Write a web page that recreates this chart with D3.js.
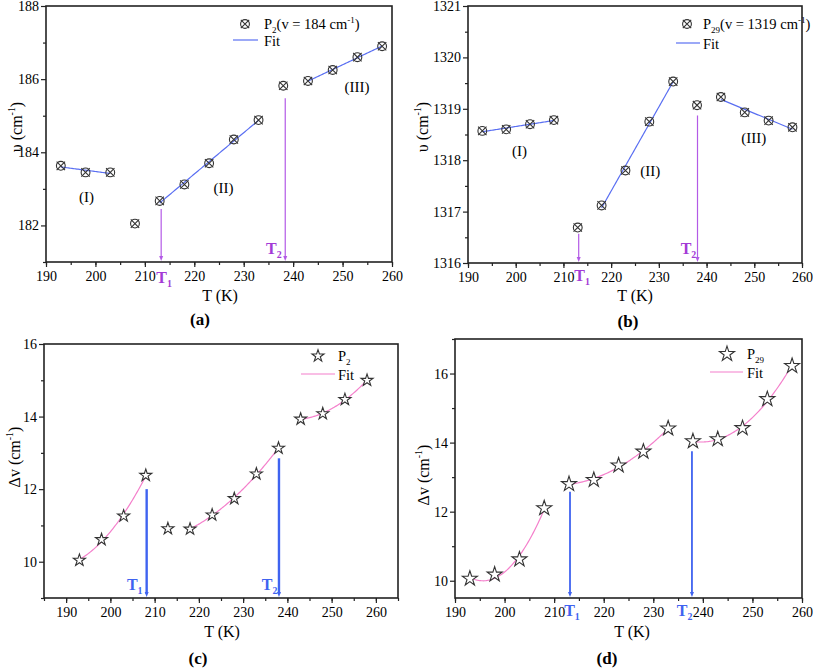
<!DOCTYPE html>
<html><head><meta charset="utf-8">
<script src="https://cdn.jsdelivr.net/npm/d3@7"></script>
<style>body{margin:0;background:#fff}svg{display:block}text,tspan{font-family:"Liberation Serif","Times New Roman",Tinos,serif}</style>
</head><body><svg id="c" width="813" height="668"></svg>
<script>
// ---- data ----
const temps = [193,198,203,208,213,218,223,228,233,238,243,248,253,258];
const nuP2  = [183.63,183.45,183.45,182.05,182.67,183.12,183.70,184.35,184.88,185.82,185.95,186.25,186.60,186.90];
const nuP29 = [1318.57,1318.60,1318.70,1318.78,1316.69,1317.12,1317.80,1318.75,1319.53,1319.07,1319.23,1318.93,1318.77,1318.64];
const dvP2  = [10.04,10.61,11.26,12.38,10.91,10.90,11.29,11.74,12.42,13.13,13.93,14.08,14.47,15.00];
const dvP29 = [10.06,10.18,10.62,12.10,12.80,12.92,13.34,13.74,14.41,14.04,14.10,14.42,15.26,16.22];
const segsA = [[193,203],[213,233],[243,258]];
const segsB = [[193,208],[218,233],[243,258]];
const segsC = [[193,208],[218,238],[243,258]];
const segsD = [[193,208],[213,233],[238,258]];
const xTicks = [190,200,210,220,230,240,250,260];

const svg = d3.select("#c");
const FONT = '"Liberation Serif","Times New Roman",Tinos,serif';

function polyfit(xs, ys, deg){
  const x0 = d3.mean(xs);
  const n = deg+1;
  const A = Array.from({length:n},()=>Array(n+1).fill(0));
  xs.forEach((x,i)=>{
    const t = x-x0;
    for(let r=0;r<n;r++){
      for(let c=0;c<n;c++) A[r][c]+=Math.pow(t,r+c);
      A[r][n]+=ys[i]*Math.pow(t,r);
    }
  });
  for(let i=0;i<n;i++){
    let p=i; for(let k=i+1;k<n;k++) if(Math.abs(A[k][i])>Math.abs(A[p][i])) p=k;
    [A[i],A[p]]=[A[p],A[i]];
    for(let k=0;k<n;k++){ if(k===i) continue; const f=A[k][i]/A[i][i]; for(let c=i;c<=n;c++) A[k][c]-=f*A[i][c]; }
  }
  const coef = A.map((row,i)=>row[n]/row[i]);
  return x => coef.reduce((s,c,i)=>s+c*Math.pow(x-x0,i),0);
}

function richText(g, x, y, parts, opts){
  const t = g.append("text").attr("x",x).attr("y",y)
    .attr("font-size",opts.size).attr("fill",opts.fill||"#000")
    .attr("font-family",FONT)
    .attr("font-weight",opts.weight||"normal")
    .attr("text-anchor",opts.anchor||"start");
  if(opts.transform) t.attr("transform",opts.transform);
  parts.forEach(p=>{
    const s = t.append("tspan").text(p.t);
    if(p.sub){ s.attr("font-size",opts.size*0.62).attr("dy",opts.size*0.25); }
    else if(p.sup){ s.attr("font-size",opts.size*0.62).attr("dy",-opts.size*0.42); }
    else if(p.back){ s.attr("dy",p.back); }
  });
  return t;
}

function panel(cfg){
  const g = svg.append("g");
  const x = d3.scaleLinear().domain(cfg.xd).range([cfg.l,cfg.r]);
  const y = d3.scaleLinear().domain(cfg.yd).range([cfg.b,cfg.t]);
  // minor ticks
  g.append("g").attr("transform",`translate(0,${cfg.b})`)
    .call(d3.axisBottom(x).tickValues(d3.range(cfg.xd[0],cfg.xd[1]+0.01,5)).tickSize(3).tickFormat("").tickSizeOuter(0))
    .call(s=>s.select(".domain").remove());
  g.append("g").attr("transform",`translate(${cfg.l},0)`)
    .call(d3.axisLeft(y).tickValues(cfg.yMinor).tickSize(3).tickFormat("").tickSizeOuter(0))
    .call(s=>s.select(".domain").remove());
  const ax = g.append("g").attr("transform",`translate(0,${cfg.b})`)
    .call(d3.axisBottom(x).tickValues(xTicks).tickSize(5).tickPadding(4).tickSizeOuter(0));
  const ay = g.append("g").attr("transform",`translate(${cfg.l},0)`)
    .call(d3.axisLeft(y).tickValues(cfg.yMajor).tickSize(5).tickPadding(2).tickSizeOuter(0).tickFormat(d3.format("d")));
  [ax,ay].forEach(a=>{
    a.attr("font-family",FONT).attr("font-size",14);
    a.selectAll("text").attr("font-size",14).attr("font-family",FONT).attr("fill","#000");
    a.selectAll(".domain").remove();});
  g.selectAll(".tick line").attr("stroke","#222").attr("stroke-width",1.2);
  g.append("rect").attr("x",cfg.l).attr("y",cfg.t).attr("width",cfg.r-cfg.l).attr("height",cfg.b-cfg.t)
    .attr("fill","none").attr("stroke","#222").attr("stroke-width",1.6);

  // fits
  const line = d3.line().x(d=>x(d[0])).y(d=>y(d[1]));
  cfg.segs.forEach(([a,b])=>{
    const idx = temps.map((t,i)=>i).filter(i=>temps[i]>=a&&temps[i]<=b);
    const f = polyfit(idx.map(i=>temps[i]), idx.map(i=>cfg.vals[i]), cfg.deg);
    const pts = d3.range(a,b+0.001,0.25).map(t=>[t,f(t)]);
    g.append("path").attr("d",line(pts)).attr("fill","none").attr("stroke",cfg.fitColor).attr("stroke-width",1.2);
  });
  // markers
  const drawMarker = (sel)=>{
    if(cfg.marker==="cx"){
      sel.append("circle").attr("r",4.4).attr("fill","none").attr("stroke","#333").attr("stroke-width",1.1);
      sel.append("path").attr("d","M-4.2,-4.2L4.2,4.2M-4.2,4.2L4.2,-4.2").attr("stroke","#333").attr("stroke-width",1.1);
    } else {
      sel.append("path").attr("d",d3.symbol(d3.symbolStar,cfg.starSize)()).attr("fill","#fff").attr("stroke","#333").attr("stroke-width",1.1);
    }
  };
  temps.forEach((t,i)=>{
    const m = g.append("g").attr("transform",`translate(${x(t)},${y(cfg.vals[i])})`);
    drawMarker(m);
  });
  // region labels
  (cfg.regions||[]).forEach(r=>{
    g.append("text").attr("x",x(r.x)).attr("y",y(r.y)).attr("text-anchor","middle").attr("dy","0.35em")
      .attr("font-family",FONT).attr("font-size",15).text(r.t);
  });
  // arrows
  cfg.arrows.forEach(a=>{
    const xa = x(a.x), y0 = y(a.from), y1 = cfg.b-1;
    g.append("line").attr("x1",xa).attr("x2",xa).attr("y1",y0).attr("y2",y1-3)
      .attr("stroke",cfg.arrowColor).attr("stroke-width",cfg.arrowW);
    g.append("path").attr("d",`M${xa-2},${y1-5}L${xa+2},${y1-5}L${xa},${y1}Z`).attr("fill",cfg.arrowColor);
    richText(g, x(a.lx), a.ly, [{t:"T"},{t:a.sub,sub:true}], {size:16,fill:cfg.labelColor,weight:"bold",anchor:"middle"});
  });
  // legend
  const L = cfg.legend;
  const lm = g.append("g").attr("transform",`translate(${L.mx},${L.my})`);
  drawMarker(lm);
  richText(g, L.tx, L.my+5, L.parts, {size:14.5});
  g.append("line").attr("x1",L.lx1).attr("x2",L.lx2).attr("y1",L.ly).attr("y2",L.ly).attr("stroke",cfg.fitColor).attr("stroke-width",1.2);
  g.append("text").attr("x",L.tx).attr("y",L.ly+6).attr("font-family",FONT).attr("font-size",14.5).text("Fit");
  // axis titles
  g.append("text").attr("x",cfg.xtx).attr("y",cfg.xty).attr("text-anchor","middle").attr("font-family",FONT).attr("font-size",16).text("T (K)");
  richText(g, 0, 0, cfg.ylab, {size:16, anchor:"middle", transform:`translate(${cfg.ytx},${cfg.yty}) rotate(-90)`});
  g.append("text").attr("x",cfg.ptx).attr("y",cfg.pty).attr("text-anchor","middle").attr("font-family",FONT).attr("font-size",17).attr("font-weight","bold").text(cfg.name);
}

const violet="#b35ae6", violetL="#a33ad6", blue="#3f63f0";
const ylabU = [{t:"υ (cm"},{t:"-1",sup:true},{t:")",back:16*0.42}];
const ylabD = [{t:"Δv (cm"},{t:"-1",sup:true},{t:")",back:16*0.42}];

panel({l:46,r:392,t:6,b:262,xd:[190,260],yd:[181,188],yMajor:[182,184,186,188],yMinor:[181,183,185,187],
  vals:nuP2,segs:segsA,deg:1,fitColor:"#5a6ff2",marker:"cx",
  regions:[{x:198.2,y:182.78,t:"(I)"},{x:225.9,y:183.03,t:"(II)"},{x:252.9,y:185.8,t:"(III)"}],
  arrows:[{x:213.3,from:182.45,sub:"1",lx:213.9,ly:283},{x:238.4,from:185.48,sub:"2",lx:236.1,ly:254}],
  arrowColor:violet,arrowW:1.2,labelColor:violetL,
  legend:{mx:245,my:24,tx:264,lx1:233,lx2:258,ly:40,parts:[{t:"P"},{t:"2",sub:true},{t:"(v = 184 cm",back:-14.5*0.25},{t:"-1",sup:true},{t:")",back:14.5*0.42}]},
  xtx:220,xty:301,ytx:22,yty:127,ylab:ylabU,ptx:200,pty:325,name:"(a)"});

panel({l:468,r:802,t:6,b:263,xd:[190,260],yd:[1316,1321],yMajor:[1316,1317,1318,1319,1320,1321],yMinor:d3.range(1316.5,1321,1),
  vals:nuP29,segs:segsB,deg:1,fitColor:"#5a6ff2",marker:"cx",
  regions:[{x:200.8,y:1318.18,t:"(I)"},{x:228.2,y:1317.79,t:"(II)"},{x:249.9,y:1318.44,t:"(III)"}],
  arrows:[{x:213.2,from:1316.57,sub:"1",lx:213.9,ly:281},{x:238.1,from:1318.87,sub:"2",lx:236.2,ly:254}],
  arrowColor:violet,arrowW:1.2,labelColor:violetL,
  legend:{mx:687,my:24,tx:703,lx1:676,lx2:700,ly:43,parts:[{t:"P"},{t:"29",sub:true},{t:"(v = 1319 cm",back:-14.5*0.25},{t:"-1",sup:true},{t:")",back:14.5*0.42}]},
  xtx:635,xty:301,ytx:428,yty:127,ylab:ylabU,ptx:628,pty:327,name:"(b)"});

panel({l:44,r:398,t:344,b:598,xd:[185,265],yd:[9,16],yMajor:[10,12,14,16],yMinor:[9,11,13,15],
  vals:dvP2,segs:segsC,deg:2,fitColor:"#f47fcb",marker:"star",starSize:45,
  arrows:[{x:208.2,from:12.0,sub:"1",lx:205.5,ly:590},{x:238.1,from:12.85,sub:"2",lx:236,ly:590}],
  arrowColor:blue,arrowW:2.4,labelColor:blue,
  legend:{mx:318,my:356,tx:338,lx1:301,lx2:335,ly:374,parts:[{t:"P"},{t:"2",sub:true}]},
  xtx:222,xty:637,ytx:20,yty:457,ylab:ylabD,ptx:198,pty:664,name:"(c)"});

panel({l:455,r:802,t:339,b:598,xd:[190,260],yd:[9.5,17],yMajor:[10,12,14,16],yMinor:[11,13,15,17],
  vals:dvP29,segs:segsD,deg:2,fitColor:"#f47fcb",marker:"star",starSize:70,
  arrows:[{x:213.2,from:12.58,sub:"1",lx:213.6,ly:616},{x:237.8,from:13.75,sub:"2",lx:236.3,ly:616}],
  arrowColor:blue,arrowW:1.8,labelColor:blue,
  legend:{mx:727,my:354,tx:747,lx1:710,lx2:743,ly:372,parts:[{t:"P"},{t:"29",sub:true}]},
  xtx:632,xty:637,ytx:429,yty:475,ylab:ylabD,ptx:607,pty:664,name:"(d)"});
</script></body></html>
